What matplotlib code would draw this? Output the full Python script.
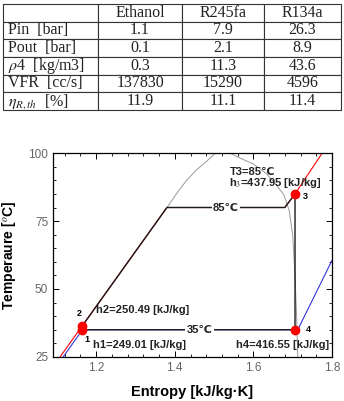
import matplotlib
matplotlib.use('Agg')
import matplotlib.pyplot as plt

plt.rcParams['font.family'] = ['Liberation Sans', 'DejaVu Sans']
plt.rcParams['mathtext.fontset'] = 'stix'

# table data
col_labels = ['', 'Ethanol', 'R245fa', 'R134a']
row_labels = ['Pin  [bar]', 'Pout  [bar]', r'$\rho$4  [kg/m3]', 'VFR  [cc/s]', r'$\eta_{R,th}$  [%]']
ethanol = ['1.1', '0.1', '0.3', '137830', '11.9']
r245fa = ['7.9', '2.1', '11.3', '15290', '11.1']
r134a = ['26.3', '8.9', '43.6', '4596', '11.4']

# T-s diagram data (entropy kJ/kgK, temperature C)
dome_s = [1.380, 1.405, 1.430, 1.455, 1.481, 1.500, 1.517, 1.535, 1.560, 1.600, 1.633, 1.660, 1.678, 1.691, 1.700, 1.706, 1.710, 1.713]
dome_T = [80.0, 85.2, 90.0, 93.8, 97.0, 99.6, 101.0, 100.4, 98.6, 96.0, 92.5, 88.0, 84.6, 79.0, 70.0, 55.0, 40.0, 25.0]
high_s = [1.108, 1.380, 1.680, 1.706, 1.775]
high_T = [25.0, 80.0, 80.0, 85.0, 100.0]
low_s = [1.116, 1.165, 1.713, 1.800]
low_T = [25.0, 35.0, 35.0, 60.5]
cycle_s = [1.165, 1.380, 1.680, 1.706, 1.706, 1.165]
cycle_T = [36.5, 80.0, 80.0, 85.0, 35.0, 35.0]
state_s = [1.165, 1.165, 1.706, 1.706]
state_T = [35.0, 36.5, 85.0, 35.0]

fig = plt.figure(figsize=(3.44, 4.01), dpi=100)

# table
tax = fig.add_axes([0.009, 0.726, 0.982, 0.264])
tax.axis('off')
cells = [[row_labels[i], ethanol[i], r245fa[i], r134a[i]] for i in range(len(row_labels))]
tbl = tax.table(cellText=cells, colLabels=col_labels, cellLoc='center',
                bbox=[0, 0, 1, 1], colWidths=[95, 84, 82, 77])
tbl.auto_set_font_size(False)
for (r, c), cell in tbl.get_celld().items():
    cell.set_edgecolor('#333333')
    cell.set_linewidth(0.8)
    cell.get_text().set_fontfamily('Liberation Serif')
    cell.get_text().set_fontsize(11.5)
    cell.get_text().set_color('#222222')
    if c == 0 and r > 0:
        cell.get_text().set_ha('left')
        cell._loc = 'left'
        cell.PAD = 0.05

# chart
ax = fig.add_axes([0.154, 0.110, 0.811, 0.508])
ax.plot(dome_s, dome_T, color='#999999', lw=0.7)
ax.plot(high_s, high_T, color='red', lw=0.8)
ax.plot(low_s, low_T, color='#3333dd', lw=0.8)
ax.plot(cycle_s, cycle_T, color='#1a1a1a', lw=1.0)
ax.plot(state_s, state_T, 'o', color='red', ms=6, zorder=5)

box = dict(facecolor='white', edgecolor='none', pad=1)
kw = dict(fontsize=8, fontweight='bold', color='#222222')
ax.text(1.53, 80, '85\u2103', ha='center', va='center', bbox=box, **kw)
ax.text(1.463, 35, '35\u2103', ha='center', va='center', bbox=box, **kw)
ax.text(1.539, 93, 'T3=85\u2103', ha='left', va='center', **kw)
ax.text(1.539, 89, 'h$_3$=437.95 [kJ/kg]', ha='left', va='center', **kw)
ax.text(1.727, 84, '3', ha='left', va='center', fontsize=6.5, fontweight='bold')
ax.text(1.734, 35, '4', ha='left', va='center', fontsize=6.5, fontweight='bold')
ax.text(1.157, 41, '2', ha='center', va='center', fontsize=6.5, fontweight='bold')
ax.text(1.177, 31.5, '1', ha='center', va='center', fontsize=6.5, fontweight='bold')
ax.text(1.200, 42.3, 'h2=250.49 [kJ/kg]', ha='left', va='center', **kw)
ax.text(1.193, 29.4, 'h1=249.01 [kJ/kg]', ha='left', va='center', **kw)
ax.text(1.793, 29.4, 'h4=416.55 [kJ/kg]', ha='right', va='center', **kw)

ax.set_xlim(1.09, 1.8)
ax.set_ylim(25, 100)
ax.set_xticks([1.2, 1.4, 1.6, 1.8])
ax.set_xticklabels(['1.2', '1.4', '1.6', '1.8'])
ax.set_yticks([25, 50, 75, 100])
ax.set_xticks([1.12, 1.16, 1.24, 1.28, 1.32, 1.36, 1.44, 1.48, 1.52, 1.56, 1.64, 1.68, 1.72, 1.76], minor=True)
ax.set_yticks([30, 35, 40, 45, 55, 60, 65, 70, 80, 85, 90, 95], minor=True)
ax.tick_params(which='both', direction='in', top=True, right=True, labelsize=8.5, labelcolor='#666666')
ax.tick_params(which='major', length=4, width=0.7)
ax.tick_params(which='minor', length=2, width=0.6)
for sp in ax.spines.values():
    sp.set_linewidth(0.9)

ax.set_xlabel('Entropy [kJ/kg\u00b7K]', fontsize=10.5, fontweight='bold')
ax.set_ylabel('Temperaure [$^o$C]', fontsize=10, fontweight='bold')
ax.yaxis.set_label_coords(-0.125, 0.5)
ax.xaxis.set_label_coords(0.5, -0.14)

fig.savefig('out.png', dpi=100)
